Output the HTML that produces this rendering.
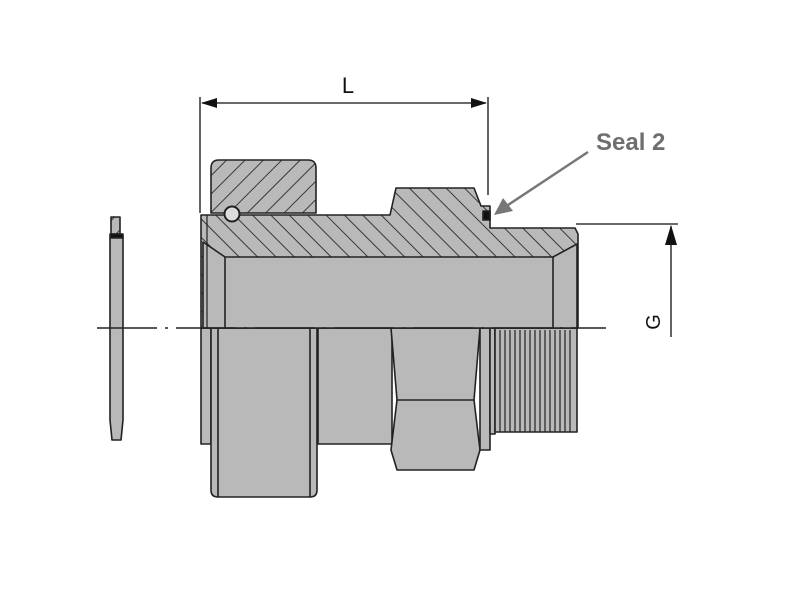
<!DOCTYPE html>
<html><head><style>body{margin:0;background:#fff}svg{display:block}</style></head><body>
<svg width="800" height="607" viewBox="0 0 800 607" xmlns="http://www.w3.org/2000/svg">
<defs>
<pattern id="hA" patternUnits="userSpaceOnUse" width="13" height="13" patternTransform="rotate(45)"><rect width="13" height="13" fill="#b9b9b9"/><line x1="0" y1="0" x2="0" y2="13" stroke="#222" stroke-width="1.7"/></pattern>
<pattern id="hB" patternUnits="userSpaceOnUse" width="13" height="13" patternTransform="rotate(-45)"><rect width="13" height="13" fill="#b9b9b9"/><line x1="0" y1="0" x2="0" y2="13" stroke="#222" stroke-width="1.7"/></pattern>
</defs>
<g stroke="#222" stroke-width="1.6" fill="#b9b9b9" stroke-linejoin="round">
<!-- lower half -->
<rect x="201" y="328" width="10" height="116"/>
<rect x="318" y="328" width="74" height="116"/>
<path d="M211 328 H317 V490 Q317 497 310 497 H218 Q211 497 211 490 Z"/>
<line x1="218" y1="328" x2="218" y2="497"/><line x1="310" y1="328" x2="310" y2="497"/>
<path d="M391 328 H480 L474 400 L480 450 L474 470 H397 L391 450 L397 400 Z"/>
<line x1="397" y1="400" x2="474" y2="400"/>
<rect x="480" y="328" width="10" height="122"/>
<rect x="490" y="328" width="5" height="106"/>
<rect x="495" y="328" width="82" height="104"/>
<g stroke-width="1.2"><path d="M500 330V432M505 330V432M510 330V432M515 330V432M520 330V432M525 330V432M530 330V432M535 330V432M540 330V432M545 330V432M550 330V432M555 330V432M560 330V432M565 330V432M570 330V432"/></g>
<!-- upper half: body -->
<path d="M201 215 H390 L396 188 H474 L481 206 H490 V228 H575 L578 234 V328 H201 Z" fill="url(#hB)"/>
<path d="M203 242 L225 257 H553 L577 244 V328 H203 Z" fill="#b9b9b9"/>
<line x1="225" y1="257" x2="225" y2="328"/><line x1="553" y1="257" x2="553" y2="328"/>
<line x1="207" y1="215" x2="207" y2="328" stroke-width="1.2"/>
<!-- nut -->
<path d="M211 213 V168 Q211 160 219 160 H308 Q316 160 316 168 V213 Z" fill="url(#hA)"/>
<circle cx="232" cy="214" r="7.5" fill="#ddd" stroke-width="2"/>
<rect x="483" y="211" width="7" height="9" fill="#111"/>
<!-- washer -->
<path d="M111 217 H120 V234 H111 Z" fill="url(#hA)"/>
<rect x="110" y="234" width="13" height="4" fill="#111"/>
<path d="M110 238 H123 V420 L121 440 H112 L110 420 Z"/>
</g>
<!-- center line -->
<line x1="97" y1="328" x2="606" y2="328" stroke="#222" stroke-width="1.5" stroke-dasharray="60,8,3,8"/>
<!-- L dimension -->
<g stroke="#111" stroke-width="1.3">
<line x1="200" y1="97" x2="200" y2="213"/><line x1="488" y1="97" x2="488" y2="195"/>
<line x1="202" y1="103" x2="486" y2="103"/>
</g>
<path d="M201 103 L217 98 L217 108 Z M487 103 L471 98 L471 108 Z" fill="#111"/>
<text x="348" y="93" font-family="Liberation Sans, sans-serif" font-size="22" text-anchor="middle" fill="#111">L</text>
<!-- G dimension -->
<g stroke="#111" stroke-width="1.3"><line x1="576" y1="224" x2="678" y2="224"/><line x1="671" y1="226" x2="671" y2="337"/></g>
<path d="M671 225 L665 245 L677 245 Z" fill="#111"/>
<text transform="translate(660,322) rotate(-90)" font-family="Liberation Sans, sans-serif" font-size="20" text-anchor="middle" fill="#111">G</text>
<!-- Seal 2 -->
<line x1="588" y1="152" x2="505" y2="207" stroke="#777" stroke-width="2.5"/>
<path d="M494 215 L503 198 L513 211 Z" fill="#777"/>
<text x="596" y="150" font-family="Liberation Sans, sans-serif" font-size="24" font-weight="bold" fill="#6e6e6e">Seal 2</text>
</svg>
</body></html>
